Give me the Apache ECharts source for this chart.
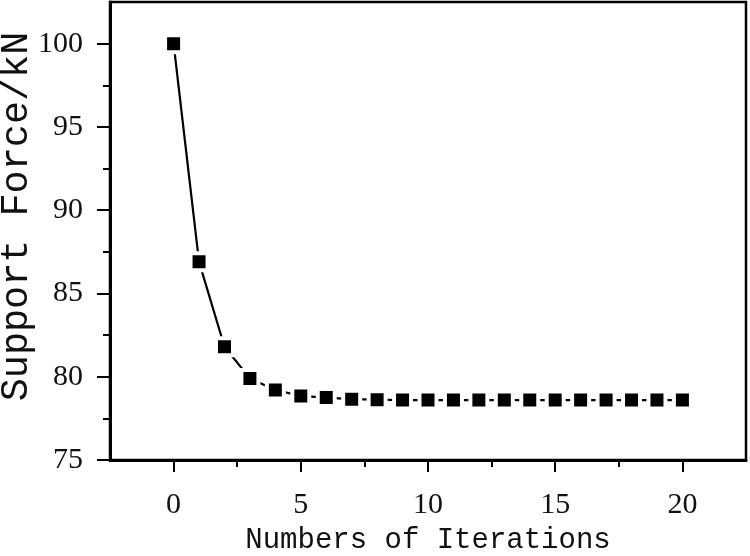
<!DOCTYPE html>
<html>
<head>
<meta charset="utf-8">
<script src="https://cdn.jsdelivr.net/npm/echarts@6/dist/echarts.min.js"></script>
<style>html,body{margin:0;padding:0;background:#fff}#c{width:750px;height:556px}</style>
</head>
<body>
<div id="c"></div>
<script>
const iterations = [0,1,2,3,4,5,6,7,8,9,10,11,12,13,14,15,16,17,18,19,20];
const supportForce = [100, 86.9, 81.8, 79.9, 79.2, 78.85, 78.75, 78.65, 78.62, 78.6, 78.6, 78.6, 78.6, 78.6, 78.6, 78.6, 78.6, 78.6, 78.6, 78.6, 78.6];
const xTicks = [0, 5, 10, 15, 20];
const xMinorTicks = [2.5, 7.5, 12.5, 17.5];
const yTicks = [75, 80, 85, 90, 95, 100];
const yMinorTicks = [77.5, 82.5, 87.5, 92.5, 97.5];
const xTitle = 'Numbers of Iterations';
const yTitle = 'Support Force/kN';

const chart = echarts.init(document.getElementById('c'), null, {renderer: 'canvas'});
const data = iterations.map((x, i) => [x, supportForce[i]]);
const X_MIN = -2.5, X_MAX = 22.5, Y_MIN = 75, Y_MAX = 102.5;
chart.setOption({
  animation: false,
  backgroundColor: '#fff',
  grid: {left: 110, right: 4, top: 2, bottom: 96, containLabel: false, outerBoundsMode: 'none',
    show: true, borderColor: '#000', borderWidth: 2.5, backgroundColor: 'transparent'},
  xAxis: [{
    type: 'value', min: X_MIN, max: X_MAX,
    name: xTitle, nameLocation: 'middle', nameGap: 66, nameMoveOverlap: false,
    nameTextStyle: {fontFamily: 'Liberation Mono', fontSize: 29, color: '#111'},
    axisLine: {show: true, onZero: false, lineStyle: {color: '#000', width: 3}},
    axisTick: {show: true, inside: false, length: 12, customValues: xTicks, lineStyle: {color: '#000', width: 2}},
    splitLine: {show: false},
    axisLabel: {fontFamily: 'Liberation Serif', fontSize: 30, color: '#111', margin: 30, customValues: xTicks}
  }, {
    type: 'value', min: X_MIN, max: X_MAX, position: 'bottom', offset: 0,
    axisLine: {show: false, onZero: false},
    axisTick: {show: true, inside: false, length: 7, customValues: xMinorTicks, lineStyle: {color: '#000', width: 2}},
    splitLine: {show: false},
    axisLabel: {show: false}
  }],
  yAxis: [{
    type: 'value', min: Y_MIN, max: Y_MAX,
    name: yTitle, nameLocation: 'middle', nameGap: 74, nameRotate: 90, nameMoveOverlap: false,
    nameTextStyle: {fontFamily: 'Liberation Mono', fontSize: 38.5, color: '#111', padding: [0, 0, 0, 29]},
    axisLine: {show: true, onZero: false, lineStyle: {color: '#000', width: 3}},
    axisTick: {show: true, inside: false, length: 13, customValues: yTicks, lineStyle: {color: '#000', width: 2}},
    splitLine: {show: false},
    axisLabel: {fontFamily: 'Liberation Serif', fontSize: 30, color: '#111', margin: 27, customValues: yTicks}
  }, {
    type: 'value', min: Y_MIN, max: Y_MAX, position: 'left', offset: 0,
    axisLine: {show: false, onZero: false},
    axisTick: {show: true, inside: false, length: 7, customValues: yMinorTicks, lineStyle: {color: '#000', width: 2}},
    splitLine: {show: false},
    axisLabel: {show: false}
  }],
  series: [{
    type: 'line', data: data, xAxisIndex: 0, yAxisIndex: 0,
    symbol: 'rect', symbolSize: 17,
    itemStyle: {color: '#000', borderColor: '#fff', borderWidth: 4},
    lineStyle: {color: '#000', width: 2.2},
    z: 3
  }]
});
</script>
</body>
</html>
